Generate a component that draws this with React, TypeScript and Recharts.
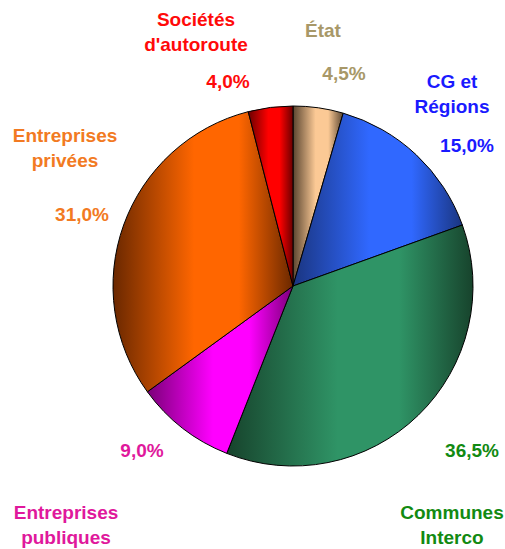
import React from "react";
import { PieChart, Pie, Cell } from "recharts";

// order: clockwise from 12 o'clock
const categories = [
  "État",
  "CG et Régions",
  "Communes Interco",
  "Entreprises publiques",
  "Entreprises privées",
  "Sociétés d'autoroute"
];
const shares = [4.5, 15.0, 36.5, 9.0, 31.0, 4.0];
const nameLines = [
  ["État"],
  ["CG et", "Régions"],
  ["Communes", "Interco"],
  ["Entreprises", "publiques"],
  ["Entreprises", "privées"],
  ["Sociétés", "d'autoroute"]
];

const fills = ["#fbc995", "#3068ff", "#2f9466", "#ff00ff", "#ff6600", "#ff0000"];
const darks = ["#5a4530", "#1a3580", "#17432c", "#7a0078", "#6a2800", "#6a0000"];
const textColors = ["#a89868", "#1a1aff", "#128a12", "#e0189c", "#f27a22", "#ff0a0a"];

// label placement (centre of each text line)
const pctPos = [
  [344, 73],
  [467, 145],
  [472, 450],
  [142, 450],
  [82, 214],
  [228, 81]
];
const namePos = [
  [323, 30],
  [452, 81],
  [452, 512],
  [66, 512],
  [65, 135],
  [196, 19]
];

const data = categories.map((name, i) => ({ name, value: shares[i] }));

const fmt = (v: number) => v.toFixed(1).replace(".", ",") + "%";

const renderLabel = (props: any) => {
  const i = props.index;
  const [px, py] = pctPos[i];
  const [nx, ny] = namePos[i];
  const style = {
    fontFamily: "'Liberation Sans', Arial, sans-serif",
    fontWeight: 700,
    fontSize: 19
  };
  return (
    <g key={"lbl" + i}>
      <text x={px} y={py} textAnchor="middle" dominantBaseline="central" fill={textColors[i]} style={style}>
        {fmt(shares[i])}
      </text>
      {nameLines[i].map((line, k) => (
        <text
          key={k}
          x={nx}
          y={ny + k * 25}
          textAnchor="middle"
          dominantBaseline="central"
          fill={textColors[i]}
          style={style}
        >
          {line}
        </text>
      ))}
    </g>
  );
};

export default function App() {
  return (
    <div style={{ position: "absolute", left: 0, top: 0 }}>
      <PieChart width={505} height={549} margin={{ top: 0, right: 0, bottom: 0, left: 0 }}>
        <defs>
          {fills.map((c, i) => (
            <linearGradient key={i} id={"grad" + i} x1="0" y1="0" x2="1" y2="0">
              <stop offset="0%" stopColor={darks[i]} />
              <stop offset="45%" stopColor={c} />
              <stop offset="70%" stopColor={c} />
              <stop offset="100%" stopColor={darks[i]} />
            </linearGradient>
          ))}
        </defs>
        <Pie
          data={data}
          dataKey="value"
          nameKey="name"
          cx={293}
          cy={286}
          outerRadius={180}
          startAngle={90}
          endAngle={-270}
          stroke="#000"
          strokeWidth={1}
          label={renderLabel}
          labelLine={false}
          isAnimationActive={false}
        >
          {data.map((d, i) => (
            <Cell key={d.name} fill={`url(#grad${i})`} />
          ))}
        </Pie>
      </PieChart>
    </div>
  );
}
